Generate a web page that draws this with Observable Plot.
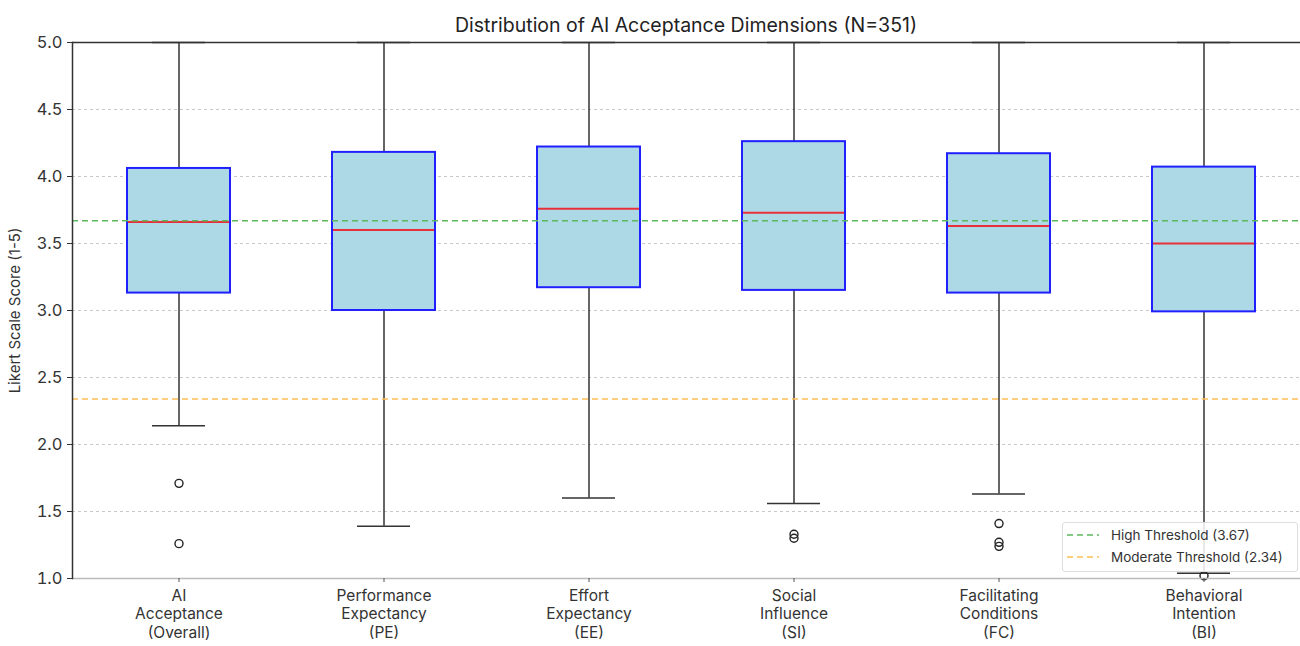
<!DOCTYPE html>
<html>
<head>
<meta charset="utf-8">
<script src="https://cdn.jsdelivr.net/npm/d3@7"></script>
<script src="https://cdn.jsdelivr.net/npm/@observablehq/plot@0.6"></script>
<style>
  body { margin: 0; background: white; font-family: "Inter", sans-serif; }
  #wrap { position: relative; width: 1300px; height: 646px; overflow: hidden; }
  #title { height: 34px; line-height: 50px; text-align: center; font-size: 19.5px; color: #222; padding-left: 72px; box-sizing: border-box; white-space: nowrap; }
  #legend { position: absolute; left: 1062px; top: 522px; width: 236px; height: 50px; background: rgba(255,255,255,0.85);
            border: 1px solid #ddd; border-radius: 3px; font-size: 13.5px; color: #333; box-sizing: border-box; }
  .item { position: absolute; left: 0; display: flex; align-items: center; white-space: nowrap; }
  .item svg { margin-left: 4px; margin-right: 12px; }
</style>
</head>
<body>
<div id="wrap">
  <div id="title">Distribution of AI Acceptance Dimensions (N=351)</div>
  <div id="chart"></div>
  <div id="legend"></div>
</div>
<script>
const categories = [
  "AI\nAcceptance\n(Overall)",
  "Performance\nExpectancy\n(PE)",
  "Effort\nExpectancy\n(EE)",
  "Social\nInfluence\n(SI)",
  "Facilitating\nConditions\n(FC)",
  "Behavioral\nIntention\n(BI)"
];
const q1 = [3.13, 3.00, 3.17, 3.15, 3.13, 2.99];
const medians = [3.66, 3.60, 3.76, 3.73, 3.63, 3.50];
const q3 = [4.06, 4.18, 4.22, 4.26, 4.17, 4.07];
const whiskerLow = [2.14, 1.39, 1.60, 1.56, 1.63, 1.04];
const whiskerHigh = [5.0, 5.0, 5.0, 5.0, 5.0, 5.0];
const outlierCat = [0, 0, 3, 3, 4, 4, 4, 5];
const outlierVal = [1.71, 1.26, 1.33, 1.30, 1.41, 1.27, 1.24, 1.02];
const yTicks = [1.0, 1.5, 2.0, 2.5, 3.0, 3.5, 4.0, 4.5, 5.0];
const thresholds = [
  {label: "High Threshold (3.67)", value: 3.67, color: "#5cb85c"},
  {label: "Moderate Threshold (2.34)", value: 2.34, color: "#ffbe55"}
];

const boxes = categories.map((c, i) => ({
  cat: c, q1: q1[i], med: medians[i], q3: q3[i], lo: whiskerLow[i], hi: whiskerHigh[i]
}));
const outliers = outlierCat.map((c, i) => ({cat: categories[c], v: outlierVal[i]}));

const chart = Plot.plot({
  width: 1300,
  height: 612,
  marginTop: 8,
  marginBottom: 68,
  marginLeft: 72,
  marginRight: 0,
  style: {fontFamily: "Inter, sans-serif", fontSize: "15px", color: "#333", overflow: "visible"},
  x: {type: "band", domain: categories, range: [74.2, 1307.8], paddingInner: 0.5, paddingOuter: 0.25},
  y: {domain: [1, 5]},
  marks: [
    Plot.ruleY(yTicks.slice(1, -1), {stroke: "#c8c8c8", strokeDasharray: "3,3", strokeWidth: 1}),
    Plot.ruleX(boxes, {x: "cat", y1: "q3", y2: "hi", stroke: "#333", strokeWidth: 1.5}),
    Plot.ruleX(boxes, {x: "cat", y1: "lo", y2: "q1", stroke: "#333", strokeWidth: 1.5}),
    Plot.tickY(boxes, {x: "cat", y: "lo", stroke: "#333", strokeWidth: 1.5, insetLeft: 25, insetRight: 25}),
    Plot.tickY(boxes, {x: "cat", y: "hi", stroke: "#333", strokeWidth: 1.5, insetLeft: 25, insetRight: 25}),
    Plot.barY(boxes, {x: "cat", y1: "q1", y2: "q3", fill: "#add8e6", stroke: "#2020ff", strokeWidth: 2}),
    Plot.tickY(boxes, {x: "cat", y: "med", stroke: "#e8303a", strokeWidth: 2, insetLeft: 1, insetRight: 1}),
    Plot.dot(outliers, {x: "cat", y: "v", r: 4, stroke: "#222", fill: "none", strokeWidth: 1.4}),
    Plot.ruleY(thresholds, {y: "value", stroke: "color", strokeDasharray: "6,4", strokeWidth: 1.5}),
    Plot.ruleY([5], {stroke: "#333", strokeWidth: 1.5}),
    Plot.ruleY([1], {stroke: "#bbb", strokeWidth: 1.5}),
    Plot.frame({anchor: "left", stroke: "#333", strokeWidth: 1.5}),
    Plot.axisY({ticks: yTicks, tickFormat: d3.format(".1f"), tickSize: 5, tickPadding: 5, fontSize: 16.5, label: null, stroke: "#333"}),
    Plot.axisX({tickSize: 4, tickPadding: 5, fontSize: 15.5, lineHeight: 1.2, label: null, stroke: "#555"}),
    Plot.text(["Likert Scale Score (1-5)"], {frameAnchor: "left", dx: -57, rotate: -90, textAnchor: "middle", fontSize: 15, fill: "#333"})
  ]
});
document.getElementById("chart").appendChild(chart);

const legend = document.getElementById("legend");
thresholds.forEach((t, i) => {
  const item = document.createElement("div");
  item.className = "item";
  item.style.top = (4 + i * 22) + "px";
  item.innerHTML = `<svg width="32" height="16"><line x1="0" y1="8" x2="32" y2="8" stroke="${t.color}" stroke-width="1.5" stroke-dasharray="6,4"/></svg><span>${t.label}</span>`;
  legend.appendChild(item);
});
</script>
</body>
</html>
